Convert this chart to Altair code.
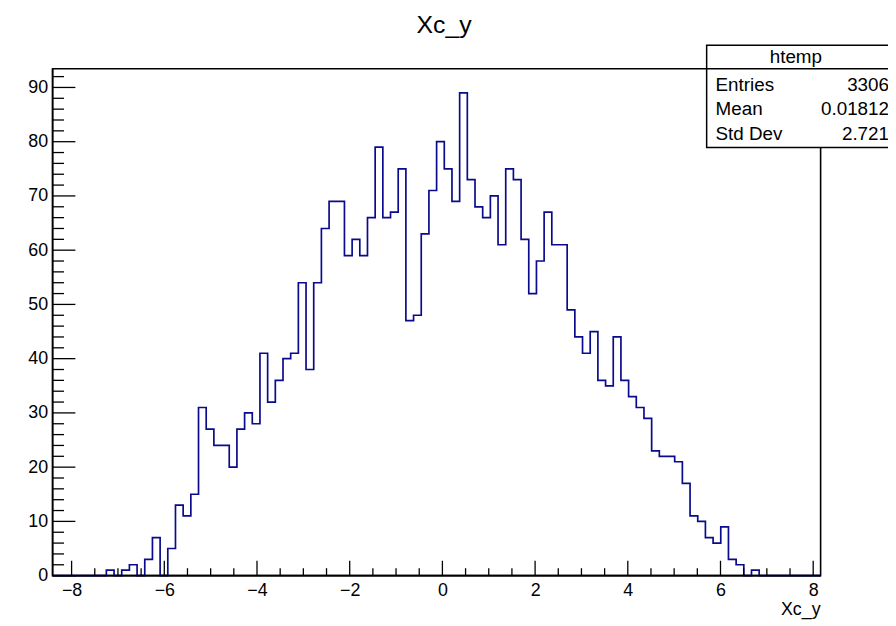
import altair as alt
import pandas as pd

# ---- data (100 bins) ----
counts = [0, 0, 0, 0, 0, 0, 0, 1, 0, 1, 2, 0, 3, 7, 0, 5, 13, 11, 15,
          31, 27, 24, 24, 20, 27, 30, 28, 41, 32, 36, 40, 41, 54, 38,
          54, 64, 69, 69, 59, 62, 59, 66, 79, 66, 67, 75, 47, 48, 63, 71, 80, 75, 69, 89,
          73, 68, 66, 70, 61, 75, 73,
          62, 52, 58, 67, 61, 61, 49, 44, 41, 45, 36, 35, 44, 36, 33, 31, 29, 23, 22, 22,
          21, 17, 11, 10, 7, 6, 9, 3, 2, 0, 1,
          0, 0, 0, 0, 0, 0, 0, 0]
x_min, x_max = -8.41, 8.16
y_max = 93.45
x_major = [-8, -6, -4, -2, 0, 2, 4, 6, 8]
y_major = [0, 10, 20, 30, 40, 50, 60, 70, 80, 90]
x_minor = [v / 2 for v in range(-16, 17) if v % 4 != 0]
y_minor = [v for v in range(0, 94, 2) if v % 10 != 0]
stat_names = ["Entries", "Mean", "Std Dev"]
stat_values = ["3306", "0.01812", "2.721"]
title_text = "Xc_y"
stats_title = "htemp"

n_bins = len(counts)
bw = (x_max - x_min) / n_bins
edges = [x_min + i * bw for i in range(n_bins + 1)]
hist_df = pd.DataFrame({"x": edges, "y": counts + [counts[-1]]})

W, H = 775, 511.5
FONT = "Liberation Sans"
LINE = "#0a0a8c"

x_scale = alt.Scale(domain=[x_min, x_max], nice=False, zero=False)
y_scale = alt.Scale(domain=[0, y_max], nice=False, zero=False)
x_axis = alt.Axis(values=x_major, format="d", title=None, ticks=False, domain=False,
                  grid=False, labelFontSize=18, labelFont=FONT, labelColor="black",
                  labelPadding=6, labelFlush=False, labelOverlap=False)
y_axis = alt.Axis(values=y_major, format="d", title=None, ticks=False, domain=False,
                  grid=False, labelFontSize=18, labelFont=FONT, labelColor="black",
                  labelPadding=5, labelOverlap=False)

hist = alt.Chart(hist_df).mark_line(
    interpolate="step-after", color=LINE, strokeWidth=1.7
).encode(
    x=alt.X("x:Q", scale=x_scale, axis=x_axis),
    y=alt.Y("y:Q", scale=y_scale, axis=y_axis),
)

def ytick(vals, length):
    return alt.Chart(pd.DataFrame({"y": vals})).mark_rule(color="black", strokeWidth=1.3).encode(
        y=alt.Y("y:Q", scale=y_scale, axis=y_axis),
        x=alt.value(0), x2=alt.value(length),
    )

def xtick(vals, length):
    return alt.Chart(pd.DataFrame({"x": vals})).mark_rule(color="black", strokeWidth=1.3).encode(
        x=alt.X("x:Q", scale=x_scale, axis=x_axis),
        y=alt.value(H), y2=alt.value(H - length),
    )

one = pd.DataFrame({"a": [0]})

def txt(text, x, y, size=18, align="left", baseline="middle"):
    return alt.Chart(one).mark_text(
        text=text, font=FONT, fontSize=size, color="black", align=align, baseline=baseline
    ).encode(x=alt.value(x), y=alt.value(y))

# axis lines redrawn on top of the histogram (as ROOT does)
bottom_axis = alt.Chart(one).mark_rule(color="black", strokeWidth=1.6).encode(
    x=alt.value(0), x2=alt.value(W), y=alt.value(H)
)
left_axis = alt.Chart(one).mark_rule(color="black", strokeWidth=1.6).encode(
    x=alt.value(0), y=alt.value(0), y2=alt.value(H)
)

box = alt.Chart(one).mark_rect(fill="white", stroke="black", strokeWidth=1.5).encode(
    x=alt.value(660), x2=alt.value(870), y=alt.value(-23.8), y2=alt.value(79.5)
)
box_line = alt.Chart(one).mark_rule(color="black", strokeWidth=1.5).encode(
    x=alt.value(660), x2=alt.value(870), y=alt.value(0)
)

layers = [hist, bottom_axis, left_axis,
          ytick(y_major, 23), ytick(y_minor, 11.5), xtick(x_major, 15), xtick(x_minor, 7.5),
          box, box_line,
          txt(stats_title, 750, -11.5, 19, "center"),
          txt(title_text, 395, -36.5, 25, "center", "alphabetic"),
          txt(title_text, 775, 551.5, 18, "right", "alphabetic")]
row_y = [16.8, 40.2, 65.8]
for name, val, yy in zip(stat_names, stat_values, row_y):
    layers.append(txt(name, 669, yy, 19, "left"))
    layers.append(txt(val, 844, yy, 19, "right"))

chart = alt.layer(*layers).properties(
    width=W, height=H, autosize="none",
    padding={"left": 45, "top": 58.5, "right": 68, "bottom": 44},
    background="white",
).configure_view(stroke="black", strokeWidth=1.6)

chart.save("out.html", embed_options={"renderer": "svg", "actions": False})
